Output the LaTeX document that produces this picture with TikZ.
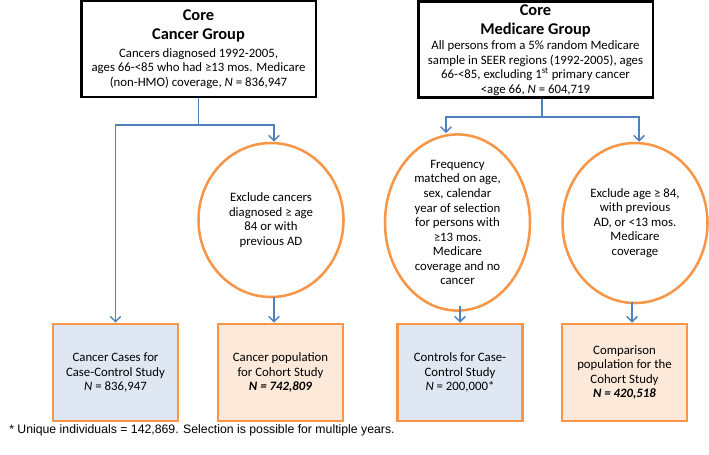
\documentclass[tikz,border=0pt]{standalone}
\usepackage{fontspec}
\setmainfont{Carlito}
\newfontfamily\footfont{Liberation Sans}
\usetikzlibrary{arrows.meta,shapes.geometric}
\definecolor{lineblue}{HTML}{4F81BD}
\definecolor{orng}{HTML}{F79646}
\definecolor{fillblue}{HTML}{DFE7F3}
\definecolor{fillorng}{HTML}{FDE9D9}
\newcommand{\ttlfont}{\fontsize{12.3}{14.3}\selectfont\bfseries}
\newcommand{\bodyfont}{\normalfont\fontsize{9.6}{10.9}\selectfont}
\begin{document}
\begin{tikzpicture}[x=0.75pt,y=-0.75pt,
  every node/.style={inner sep=0pt, font=\bodyfont},
  topbox/.style={draw=black, line width=2pt, fill=white, align=center,
    minimum width=176pt, minimum height=72pt},
  oval/.style={ellipse, draw=orng, line width=1.9pt, fill=white, align=center,
    minimum width=108.75pt},
  botbox/.style={rectangle, draw=orng, line width=1.9pt, align=center,
    minimum width=93.75pt, minimum height=72.75pt},
  conn/.style={draw=lineblue, line width=1.1pt},
  arr/.style={conn, -{Straight Barb[length=4pt,width=8pt]}}
]
\useasboundingbox (0,0) rectangle (709,454);

% top boxes
\node[topbox] (tl) at (198.5,49) {\ttlfont Core\\[3.4pt]\ttlfont Cancer Group\\[2.6pt]\bodyfont Cancers diagnosed 1992-2005,\\\bodyfont ages 66-<85 who had ≥13 mos. Medicare\\\bodyfont (non-HMO) coverage, \textit{N} = 836,947};
\node[topbox] (tr) at (535.5,49.5) {};
\node[align=center] (trt) at (535.5,50) {\ttlfont Core\\[3.4pt]\ttlfont Medicare Group\\[0.3pt]\bodyfont All persons from a 5\% random Medicare\\\bodyfont sample in SEER regions (1992-2005), ages\\\bodyfont 66-<85, excluding 1\textsuperscript{st} primary cancer\\\bodyfont <age 66, \textit{N} = 604,719};

% ovals
\node[oval, minimum height=115.5pt] (c1) at (271,220) {Exclude cancers\\diagnosed ≥ age\\84 or with\\previous AD};
\node[oval, minimum height=128.25pt] (c3) at (457.5,222.5) {Frequency\\matched on age,\\sex, calendar\\year of selection\\for persons with\\≥13 mos.\\Medicare\\coverage and no\\cancer};
\node[oval, minimum height=120pt] (c4) at (635,223) {Exclude age ≥ 84,\\with previous\\AD, or <13 mos.\\Medicare\\coverage};

% bottom boxes
\node[botbox, fill=fillblue] (b1) at (115.5,372.5) {Cancer Cases for\\Case-Control Study\\\textit{N} = 836,947};
\node[botbox, fill=fillorng] (b2) at (280.5,372.5) {Cancer population\\for Cohort Study\\\textbf{\textit{N = 742,809}}};
\node[botbox, fill=fillblue] (b3) at (460,372.5) {Controls for Case-\\Control Study\\\textit{N} = 200,000*};
\node[botbox, fill=fillorng] (b4) at (624.5,372.5) {Comparison\\population for the\\Cohort Study\\\textbf{\textit{N = 420,518}}};

% connectors left
\coordinate (j1) at (198.5,125);
\coordinate (j1l) at (115.5,125);
\coordinate (j1r) at (274,125);
\draw[conn] (tl.south) -- (j1);
\draw[arr] (j1) -- (j1l) -- (b1.north);
\draw[arr] (j1) -- (j1r) -- (j1r |- c1.north);
\coordinate (a2) at (274,297);
\draw[arr] (a2) -- (a2 |- b2.north);

% connectors right
\coordinate (j2) at (542,117);
\coordinate (j2l) at (446,117);
\coordinate (j2r) at (639,117);
\draw[conn] (tr.south -| j2) -- (j2);
\draw[arr] (j2) -- (j2l) -- (j2l |- c3.north);
\draw[arr] (j2) -- (j2r) -- (j2r |- c4.north);
\coordinate (a3) at (460,306);
\draw[arr] (a3) -- (a3 |- b3.north);
\coordinate (a4) at (632,302);
\draw[arr] (a4) -- (a4 |- b4.north);

% footnote
\node[anchor=west, font=\footfont\fontsize{9.2}{11}\selectfont] (fn) at (9,430) {* Unique individuals = 142,869. Selection is possible for multiple years.};
\end{tikzpicture}
\end{document}
